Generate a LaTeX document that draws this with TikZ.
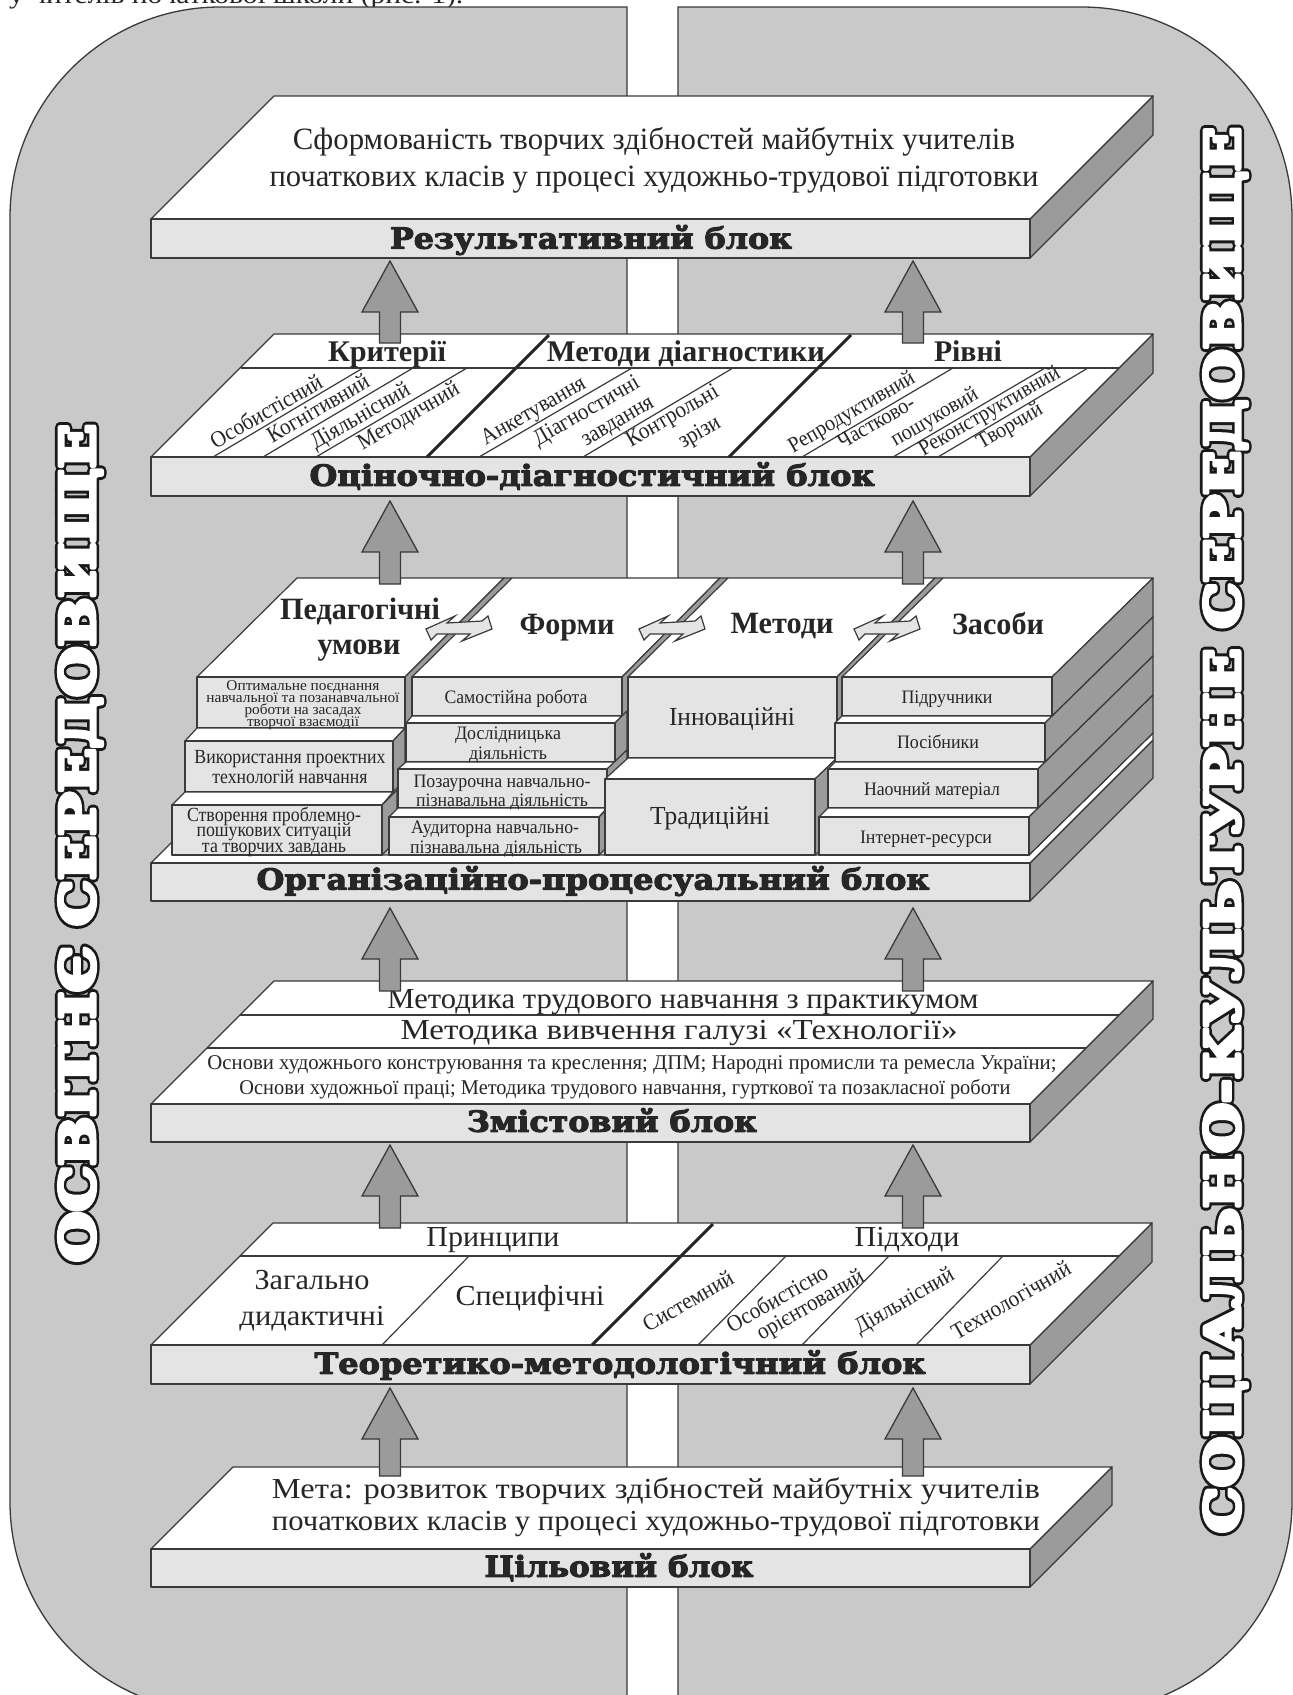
\documentclass[tikz,border=0pt]{standalone}
\usepackage{fontspec}
\usepackage{graphicx}
\setmainfont{Liberation Serif}
\newfontfamily\titlefont[FakeBold=3.5]{DejaVu Serif Bold}
\newfontfamily\outfonta[FakeBold=18.75]{DejaVu Serif Bold}
\newfontfamily\outfontb[FakeBold=8.3]{DejaVu Serif Bold}
\definecolor{bggray}{HTML}{C9C9C9}
\definecolor{facegray}{HTML}{E4E4E4}
\definecolor{sidegray}{HTML}{9B9B9B}
\definecolor{ln}{HTML}{3A3A3A}
\definecolor{tx}{HTML}{262626}
\tikzset{
  x=1pt,y=-1pt,
  bgshape/.style={fill=bggray,draw=ln,line width=1.3pt},
  topf/.style={fill=white,draw=ln,line width=1.2pt,line join=round},
  sidef/.style={fill=sidegray,draw=ln,line width=1.2pt,line join=round},
  frontf/.style={fill=facegray,draw=ln,line width=1.4pt,line join=round},
  stepf/.style={fill=white,draw=ln,line width=1.2pt,line join=round},
  thinl/.style={draw=ln,line width=1.2pt},
  thickl/.style={draw=black!85,line width=3pt},
  arrowf/.style={fill=sidegray,draw=ln,line width=1.3pt,line join=miter},
  darrowf/.style={fill=facegray,draw=ln,line width=1.2pt,line join=miter},
  lbl/.style={inner sep=0pt,text=tx},
  vlbl/.style={inner sep=0pt,rotate=90,anchor=base},
}
% horizontal fit
\newcommand\sw[3]{\resizebox{#1pt}{\height}{\fontsize{#2}{#2}\selectfont\vphantom{Щр}#3}}
% text: {name}{x}{y}{width}{size}{text}
\newcommand\TX[6]{\node[lbl] (#1) at (#2,{#3+2}) {\sw{#4}{#5}{#6}};}
\newcommand\BX[6]{\node[lbl] (#1) at (#2,{#3+2}) {\sw{#4}{#5}{\bfseries #6}};}
\newcommand\RT[5]{\node[lbl,rotate=30] (#1) at (#2,#3) {\scalebox{0.92}[1]{\fontsize{#4}{#4}\selectfont\vphantom{Щр}#5}};}
\newcommand\TT[5]{\node[lbl] (#1) at (#2,#3) {\special{pdf:code 1 j}\sw{#4}{29}{\titlefont #5}};}
% platform: x1 x2 ytop ybot off
\newcommand\platform[5]{%
  \draw[sidef] (#2,#3) -- ({#2+#5},{#3-#5}) -- ({#2+#5},{#4-#5}) -- (#2,#4) -- cycle;
  \draw[topf] (#1,#3) -- (#2,#3) -- ({#2+#5},{#3-#5}) -- ({#1+#5},{#3-#5}) -- cycle;
  \draw[frontf] (#1,#3) rectangle (#2,#4);
}
\newcommand\harrow[3]{%
  \draw[arrowf] (#1,#2) -- ({#1+28},{#2+51}) -- ({#1+10.5},{#2+51}) -- ({#1+10.5},#3) -- ({#1-10.5},#3) -- ({#1-10.5},{#2+51}) -- ({#1-28},{#2+51}) -- cycle;
}
\newcommand\darrow[2]{%
  \draw[darrowf,shift={(#1,#2)}] (-33,1) -- (-4,-12) -- (-12,-5) -- (23,-7) -- (29,-12) -- (33,1) -- (3,13) -- (11,6) -- (-22,6) -- (-28,12) -- cycle;
}
\newcommand\rbox[4]{\draw[frontf] (#1,#3) rectangle (#2,#4);}
\begin{document}
\begin{tikzpicture}
\useasboundingbox (0,0) rectangle (1293,1695);
\fill[white] (0,0) rectangle (1293,1695);
\node[lbl,anchor=base west] (topline) at (9,3) {\sw{454}{26}{у чителів початкової школи (рис. 1).}};
% background
\draw[bgshape] (627,7) [rounded corners=210pt] -- (10,7) -- (10,1712) [sharp corners] -- (627,1712) -- cycle;
\draw[bgshape] (678,7) [rounded corners=210pt] -- (1292,7) -- (1292,1712) [sharp corners] -- (678,1712) -- cycle;

% vertical labels
\node[vlbl] (leftvo) at (94.5,843) {\special{pdf:code 1 j}\special{pdf:bcolor [0.1] [0.1]}\sw{838}{48}{\outfonta ОСВІТНЄ СЕРЕДОВИЩЕ}\special{pdf:ecolor}};
\node[vlbl] (leftv) at (94.5,843) {\special{pdf:code 1 j}\special{pdf:bcolor [1] [1]}\sw{838}{48}{\outfontb ОСВІТНЄ СЕРЕДОВИЩЕ}\special{pdf:ecolor}};
\node[vlbl] (rightvo) at (1239.5,830) {\special{pdf:code 1 j}\special{pdf:bcolor [0.1] [0.1]}\sw{1406}{48}{\outfonta СОЦІАЛЬНО-КУЛЬТУРНЕ СЕРЕДОВИЩЕ}\special{pdf:ecolor}};
\node[vlbl] (rightv) at (1239.5,830) {\special{pdf:code 1 j}\special{pdf:bcolor [1] [1]}\sw{1406}{48}{\outfontb СОЦІАЛЬНО-КУЛЬТУРНЕ СЕРЕДОВИЩЕ}\special{pdf:ecolor}};

% ---- block 6
\platform{151}{1030}{219}{258}{123}
\TX{r1}{654}{140}{722}{31}{Сформованість творчих здібностей майбутніх учителів}
\TX{r2}{654}{178}{769}{31}{початкових класів у процесі художньо-трудової підготовки}
\TT{rt}{591}{240}{402}{Результативний блок}

% ---- block 5
\platform{151}{1030}{457}{496}{123}
\draw[thinl] (241,368) -- (1119,368);
\foreach \a/\b in {213/363,263/413,316/467,479/632,583/733,802/953,893/1045,938/1088}{\draw[thinl] (\a,457) -- (\b,368);}
\draw[thickl] (427,457) -- (549,335);
\draw[thickl] (729,457) -- (851,335);
\BX{e1}{387}{352}{118}{30}{Критерії}
\BX{e2}{686}{352}{278}{30}{Методи діагностики}
\BX{e3}{968}{352}{68}{30}{Рівні}
\RT{ea}{267}{413}{23}{Особистісний}
\RT{eb}{319}{410}{23}{Когнітивний}
\RT{ec}{361}{417}{23}{Діяльнісний}
\RT{ed}{409}{417}{23}{Методичний}
\RT{ee}{534}{412}{23}{Анкетування}
\RT{ef}{587}{412}{23}{Діагностичні}
\RT{eg}{618}{422}{23}{завдання}
\RT{eh}{673}{417}{23}{Контрольні}
\RT{ei}{700}{433}{23}{зрізи}
\RT{ej}{852}{413}{22}{Репродуктивний}
\RT{ek}{877}{424}{22}{Частково-}
\RT{el}{935}{418}{22}{пошуковий}
\RT{em}{990}{412}{22}{Реконструктивний}
\RT{en}{1010}{427}{22}{Творчий}
\TT{et}{592}{477}{565}{Оціночно-діагностичний блок}

% ---- block 4 plate
\draw[sidef] (1030,863) -- (1153,740) -- (1153,778) -- (1030,901) -- cycle;
\draw[topf] (151,863) -- (1030,863) -- (1153,740) -- (1153,733) -- (1029,855) -- (172,855) -- (172,842) -- cycle;
\draw[frontf] (151,863) rectangle (1030,901);

% column 1
\draw[topf] (197,677) -- (405,677) -- (504,578) -- (297,578) -- cycle;
\draw[sidef] (405,677) -- (504,578) -- (512,578) -- (512,630) -- (405,728) -- cycle;
\rbox{197}{405}{677}{728}
\draw[stepf] (185,741) -- (197,728) -- (405,728) -- (393,741) -- cycle;
\draw[sidef] (393,741) -- (405,728) -- (405,780) -- (393,792) -- cycle;
\rbox{185}{393}{741}{792}
\draw[stepf] (172,805) -- (185,792) -- (393,792) -- (382,805) -- cycle;
\draw[sidef] (382,805) -- (397,790) -- (397,840) -- (382,855) -- cycle;
\rbox{172}{382}{805}{855}
% column 2
\draw[topf] (412,677) -- (622,677) -- (720,578) -- (512,578) -- cycle;
\draw[sidef] (622,677) -- (720,578) -- (728,578) -- (728,617) -- (622,716) -- cycle;
\rbox{412}{622}{677}{716}
\draw[stepf] (406,723) -- (412,716) -- (622,716) -- (615,723) -- cycle;
\draw[sidef] (615,723) -- (627,711) -- (627,750) -- (615,762) -- cycle;
\rbox{406}{615}{723}{762}
\draw[stepf] (398,769) -- (406,762) -- (615,762) -- (607,769) -- cycle;
\draw[sidef] (607,769) -- (627,750) -- (627,789) -- (607,808) -- cycle;
\rbox{398}{607}{769}{808}
\draw[stepf] (389,817) -- (398,808) -- (607,808) -- (599,817) -- cycle;
\draw[sidef] (599,817) -- (627,789) -- (627,827) -- (599,855) -- cycle;
\rbox{389}{599}{817}{855}
% column 3
\draw[topf] (628,677) -- (837,677) -- (935,578) -- (728,578) -- cycle;
\draw[sidef] (837,677) -- (935,578) -- (943,578) -- (943,660) -- (837,758) -- cycle;
\rbox{628}{837}{677}{758}
\draw[stepf] (605,779) -- (628,758) -- (837,758) -- (815,779) -- cycle;
\draw[sidef] (815,779) -- (837,758) -- (837,834) -- (815,855) -- cycle;
\rbox{605}{815}{779}{855}
% column 4
\draw[topf] (842,677) -- (1052,677) -- (1153,578) -- (943,578) -- cycle;
\draw[sidef] (1052,677) -- (1153,578) -- (1153,617) -- (1052,716) -- cycle;
\rbox{842}{1052}{677}{716}
\draw[stepf] (835,723) -- (842,716) -- (1052,716) -- (1045,723) -- cycle;
\draw[sidef] (1045,723) -- (1153,617) -- (1153,656) -- (1045,762) -- cycle;
\rbox{835}{1045}{723}{762}
\draw[stepf] (828,769) -- (835,762) -- (1045,762) -- (1038,769) -- cycle;
\draw[sidef] (1038,769) -- (1153,656) -- (1153,695) -- (1038,808) -- cycle;
\rbox{828}{1038}{769}{808}
\draw[stepf] (819,817) -- (828,808) -- (1038,808) -- (1029,817) -- cycle;
\draw[sidef] (1029,817) -- (1153,695) -- (1153,733) -- (1029,855) -- cycle;
\rbox{819}{1029}{817}{855}

% column titles
\BX{p1}{360}{610}{160}{31}{Педагогічні}
\BX{p2}{359}{646}{83}{31}{умови}
\BX{p3}{567}{626}{95}{31}{Форми}
\BX{p4}{782}{625}{103}{31}{Методи}
\BX{p5}{998}{625}{92}{31}{Засоби}
\darrow{459}{628}
\darrow{672}{628}
\darrow{887}{628}
% column 1 text
\TX{a1}{303}{685}{153}{15}{Оптимальне поєднання}
\TX{a2}{303}{697}{193}{15}{навчальної та позанавчальної}
\TX{a3}{303}{709}{117}{15}{роботи на засадах}
\TX{a4}{303}{721}{112}{15}{творчої взаємодії}
\TX{a5}{290}{757}{191}{20}{Використання проектних}
\TX{a6}{290}{777}{155}{20}{технологій навчання}
\TX{a7}{274}{814}{174}{20}{Створення проблемно-}
\TX{a8}{274}{830}{155}{20}{пошукових ситуацій}
\TX{a9}{274}{846}{144}{20}{та творчих завдань}
% column 2 text
\TX{b1}{516}{697}{143}{19}{Самостійна робота}
\TX{b2}{508}{733}{106}{19}{Дослідницька}
\TX{b3}{508}{753}{78}{19}{діяльність}
\TX{b4}{502}{781}{177}{19}{Позаурочна навчально-}
\TX{b5}{502}{800}{172}{19}{пізнавальна діяльність}
\TX{b6}{495}{827}{168}{19}{Аудиторна навчально-}
\TX{b7}{496}{847}{172}{19}{пізнавальна діяльність}
% column 3 text
\TX{c1}{732}{717}{126}{26}{Інноваційні}
\TX{c2}{710}{816}{120}{26}{Традиційні}
% column 4 text
\TX{d1}{947}{697}{91}{19}{Підручники}
\TX{d2}{938}{742}{82}{19}{Посібники}
\TX{d3}{932}{789}{136}{19}{Наочний матеріал}
\TX{d4}{926}{837}{132}{19}{Інтернет-ресурси}
\TT{pt}{593}{881}{673}{Організаційно-процесуальний блок}

% ---- block 3
\platform{151}{1030}{1104}{1142}{123}
\draw[thinl] (240,1015) -- (1119,1015);
\draw[thinl] (207,1048) -- (1086,1048);
\TX{s1}{683}{1000}{591}{29}{Методика трудового навчання з практикумом}
\TX{s2}{679}{1031}{557}{29}{Методика вивчення галузі «Технології»}
\TX{s3}{632}{1063}{849}{21}{Основи художнього конструювання та креслення; ДПМ; Народні промисли та ремесла України;}
\TX{s4}{625}{1087}{771}{21}{Основи художньої праці; Методика трудового навчання, гурткової та позакласної роботи}
\TT{st}{612}{1123}{290}{Змістовий блок}

% ---- block 2
\platform{151}{1030}{1345}{1384}{122}
\draw[thinl] (240,1256) -- (1119,1256);
\foreach \a/\b in {382/469,698/786,802/889,916/1003}{\draw[thinl] (\a,1345) -- (\b,1256);}
\draw[thickl] (592,1345) -- (713,1224);
\TX{h1}{493}{1238}{133}{29}{Принципи}
\TX{h2}{907}{1238}{105}{29}{Підходи}
\TX{h3}{312}{1281}{115}{29}{Загально}
\TX{h4}{312}{1317}{145}{29}{дидактичні}
\TX{h5}{530}{1297}{149}{29}{Специфічні}
\RT{h6}{689}{1303}{23}{Системний}
\RT{h7}{778}{1300}{23}{Особистісно}
\RT{h8}{811}{1306}{23}{орієнтований}
\RT{h9}{905}{1302}{23}{Діяльнісний}
\RT{h10}{1012}{1302}{23}{Технологічний}
\TT{ht}{620}{1365}{611}{Теоретико-методологічний блок}

% ---- block 1
\platform{151}{1030}{1549}{1587}{82}
\TX{m1}{656}{1489}{768}{29}{Мета: розвиток творчих здібностей майбутніх учителів}
\TX{m2}{656}{1522}{768}{29}{початкових класів у процесі художньо-трудової підготовки}
\TT{mt}{619}{1568}{269}{Цільовий блок}

% block arrows
\foreach \c in {390,913}{
  \harrow{\c}{261}{343}
  \harrow{\c}{501}{584}
  \harrow{\c}{908}{991}
  \harrow{\c}{1145}{1228}
  \harrow{\c}{1388}{1476}
}
\end{tikzpicture}
\end{document}
